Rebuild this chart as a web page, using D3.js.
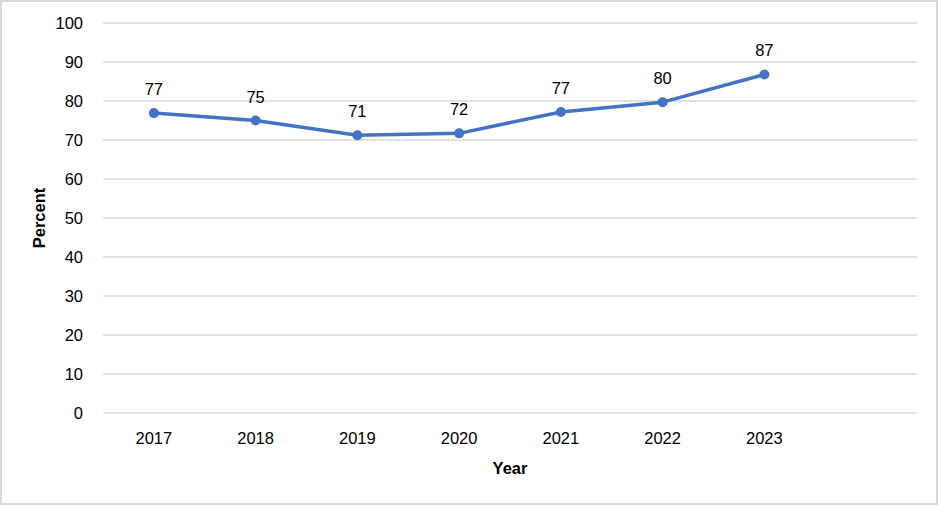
<!DOCTYPE html>
<html><head><meta charset="utf-8">
<script src="https://cdn.jsdelivr.net/npm/d3@7"></script>
<style>html,body{margin:0;padding:0;background:#fff;}svg{display:block;font-family:"Liberation Sans",Arial,sans-serif;}</style>
</head><body><svg id="c" width="940" height="506"></svg>
<script>
const categories = ["2017","2018","2019","2020","2021","2022","2023",""];
const years = ["2017","2018","2019","2020","2021","2022","2023"];
const values = [76.9, 75.0, 71.2, 71.7, 77.2, 79.7, 86.8];
const labels = ["77","75","71","72","77","80","87"];
const yTicks = [0,10,20,30,40,50,60,70,80,90,100];

const svg = d3.select("#c");
svg.append("rect").attr("x",1).attr("y",1).attr("width",936).attr("height",503)
  .attr("fill","#fff").attr("stroke","#d9d9d9").attr("stroke-width",2);

const pL=103, pR=917, pT=23, pB=413;
const x = d3.scaleBand().domain(categories).range([pL,pR]);
const y = d3.scaleLinear().domain([0,100]).range([pB,pT]);
const fs = 16.5;

// gridlines
svg.append("g").selectAll("line").data(yTicks).join("line")
  .attr("x1",pL).attr("x2",pR).attr("y1",d=>y(d)).attr("y2",d=>y(d))
  .attr("stroke","#d9d9d9").attr("stroke-width",1.4);

// y axis
const ya = svg.append("g").attr("transform",`translate(${pL},0)`)
  .call(d3.axisLeft(y).tickValues(yTicks).tickSize(0).tickPadding(20));
ya.select(".domain").remove();
ya.selectAll("text").attr("font-size",fs).attr("fill","#000").attr("font-family","Liberation Sans, Arial, sans-serif");

// x axis
const xa = svg.append("g").attr("transform",`translate(0,${pB})`)
  .call(d3.axisBottom(x).tickSize(0).tickPadding(19));
xa.select(".domain").remove();
xa.selectAll("text").attr("font-size",fs).attr("fill","#000").attr("font-family","Liberation Sans, Arial, sans-serif");

// axis titles
svg.append("text").attr("x",(pL+pR)/2).attr("y",474).attr("text-anchor","middle")
  .attr("font-size",fs).attr("font-weight","bold").text("Year");
svg.append("text").attr("transform","translate(45,218) rotate(-90)").attr("text-anchor","middle")
  .attr("font-size",fs).attr("font-weight","bold").text("Percent");

const cx = d => x(d) + x.bandwidth()/2;
const data = years.map((c,i)=>({c, v:values[i], l:labels[i]}));

svg.append("path").datum(data)
  .attr("d", d3.line().x(d=>cx(d.c)).y(d=>y(d.v)))
  .attr("fill","none").attr("stroke","#4472C4").attr("stroke-width",3.5).attr("stroke-linejoin","round");

svg.append("g").selectAll("circle").data(data).join("circle")
  .attr("cx",d=>cx(d.c)).attr("cy",d=>y(d.v)).attr("r",5).attr("fill","#4472C4");

svg.append("g").selectAll("text").data(data).join("text")
  .attr("x",d=>cx(d.c)).attr("y",d=>y(d.v)-18).attr("text-anchor","middle")
  .attr("font-size",fs).attr("fill","#000").text(d=>d.l);
</script>
</body></html>
